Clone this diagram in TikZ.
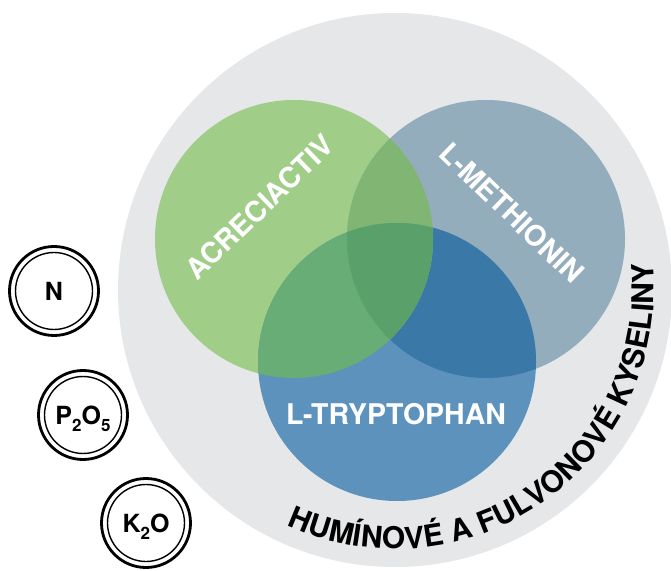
\documentclass[tikz,border=0pt]{standalone}
\usepackage{fontspec}
\usepackage{tikz}
\usetikzlibrary{decorations.text}

\newfontfamily\helv{TeX Gyre Heros}
\newcommand{\chemsub}[1]{\raisebox{-7pt}[0pt][0pt]{\fontsize{17}{17}\selectfont #1}}

\definecolor{sfondo}{HTML}{E6E7E9}
\definecolor{verde}{HTML}{A0CE88}
\definecolor{grigioblu}{HTML}{94ADBC}
\definecolor{blu}{HTML}{5D92BC}
\definecolor{verdegrigio}{HTML}{80B574}
\definecolor{verdeblu}{HTML}{68AC76}
\definecolor{bluscuro}{HTML}{3A79A7}
\definecolor{centro}{HTML}{5AA06B}

\begin{document}
\begin{tikzpicture}[x=1pt, y=1pt,
  elem/.style={circle, draw, line width=2.8pt, minimum size=89pt, inner sep=0pt, font=\helv\bfseries\fontsize{25}{25}\selectfont},
  etichetta/.style={text=white, font=\helv\bfseries\fontsize{28.5}{28.5}\selectfont}]

\useasboundingbox (0,0) rectangle (671,570);

\fill[sfondo] (395,280) circle (277pt);

% cerchi
\fill[verde] (294,331) circle (139pt);
\fill[grigioblu] (486,331) circle (139pt);
\fill[blu] (397,208) circle (139pt);

% intersezioni
\begin{scope}
\clip (486,331) circle (139pt);
\fill[bluscuro] (397,208) circle (139pt);
\end{scope}
\begin{scope}
\clip (294,331) circle (139pt);
\fill[verdegrigio] (486,331) circle (139pt);
\fill[verdeblu] (397,208) circle (139pt);
\clip (486,331) circle (139pt);
\fill[centro] (397,208) circle (139pt);
\end{scope}

\node[etichetta, rotate=44] (acr) at (260,363) {ACRECIACTIV};
\node[etichetta, rotate=-44] (met) at (512,357) {L-METHIONIN};
\node[etichetta] (try) at (396,156) {L-TRYPTOPHAN};

% testo sul bordo
\path[decorate, decoration={text along path, text align={fit to path},
  text={|\helv\bfseries\fontsize{30}{30}\selectfont|HUMÍNOVÉ A FULVONOVÉ KYSELINY}}]
  (395,280) ++(-114.7:259pt) arc[start angle=-114.7, end angle=6, radius=259pt];

\node[elem] (n) at (54,279) {N};
\node[elem] (p) at (83,155) {P\chemsub{2}O\chemsub{5}};
\node[elem] (k) at (146,47) {K\chemsub{2}O};
\foreach \c in {n,p,k}
  \draw[line width=1.4pt] (\c.center) circle (38.5pt);

\end{tikzpicture}
\end{document}
